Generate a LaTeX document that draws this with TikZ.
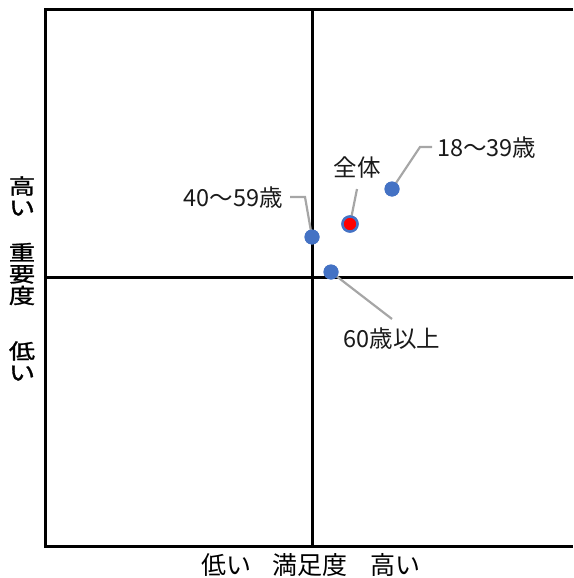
\documentclass[tikz,border=0pt]{standalone}
\usepackage{fontspec}
\usepackage{graphicx}
\setmainfont{Noto Sans CJK JP}
\newfontfamily\vfont[FakeBold=1.2]{Noto Sans CJK JP}
\definecolor{dotblue}{HTML}{4472C4}
\definecolor{leadgray}{HTML}{A6A6A6}
\definecolor{labtext}{HTML}{1A1A1A}
\newcommand{\wch}[1]{\scalebox{1.25}[1]{#1}}
\begin{document}
\begin{tikzpicture}[x=1pt,y=-1pt,
  axisline/.style={line width=3pt,black},
  leader/.style={line width=2.2pt,leadgray},
  dotmark/.style={circle,fill=dotblue,minimum size=15pt,inner sep=0pt},
  totalmark/.style={circle,fill=red,draw=dotblue,line width=2.4pt,minimum size=15pt,inner sep=0pt},
  lbl/.style={font=\fontsize{23.5}{26}\selectfont,text=labtext,inner sep=0pt},
  axlbl/.style={font=\fontsize{25}{27}\selectfont,text=black,inner sep=0pt},
  vlbl/.style={font=\vfont\fontsize{21}{21.5}\selectfont,text=black,inner sep=0pt,align=center}]
\useasboundingbox (0,0) rectangle (573,578);
% frame and axes
\coordinate (tl) at (45,10);
\coordinate (tr) at (573,10);
\coordinate (bl) at (45,546);
\coordinate (br) at (573,546);
\coordinate (vt) at (312,10);
\coordinate (vb) at (312,546);
\coordinate (hl) at (45,277);
\coordinate (hr) at (573,277);
\draw[axisline] (tr) -- (tl) -- (bl) -- (br);
\draw[axisline] (vt) -- (vb);
\draw[axisline] (hl) -- (hr);
% leader bends
\coordinate (b18) at (420,147);
\coordinate (e18) at (432,147);
\coordinate (bz) at (357,189);
\coordinate (b40) at (305,197);
\coordinate (e40) at (290,197);
\coordinate (b60) at (392,319);
% points
\node[dotmark] (p18) at (392,189) {};
\node[totalmark] (pz) at (350,224) {};
\node[dotmark] (p40) at (312,237) {};
\node[dotmark] (p60) at (331,272) {};
% leaders
\draw[leader] (p18.center) -- (b18) -- (e18);
\draw[leader] (pz.center) -- (bz);
\draw[leader] (p40.center) -- (b40) -- (e40);
\draw[leader] (p60.center) -- (b60);
% redraw dots on top
\node[dotmark] at (p18) {};
\node[totalmark] at (pz) {};
\node[dotmark] at (p40) {};
\node[dotmark] at (p60) {};
% labels
\node[lbl,anchor=west] (l18) at (437,148) {18～39歳};
\node[lbl] (lz) at (357,168) {全体};
\node[lbl,anchor=east] (l40) at (283,198) {40～59歳};
\node[lbl] (l60) at (392,339) {60歳以上};
% axis labels
\node[axlbl] (xlow) at (226,565) {低い};
\node[axlbl] (xmid) at (310,565) {満足度};
\node[axlbl] (xhigh) at (395,565) {高い};
\node[vlbl] (yhigh) at (22,196) {\wch{高}\\\wch{い}};
\node[vlbl] (ymid) at (22,274) {\wch{重}\\\wch{要}\\\wch{度}};
\node[vlbl] (ylow) at (22,361) {\wch{低}\\\wch{い}};
\end{tikzpicture}
\end{document}
